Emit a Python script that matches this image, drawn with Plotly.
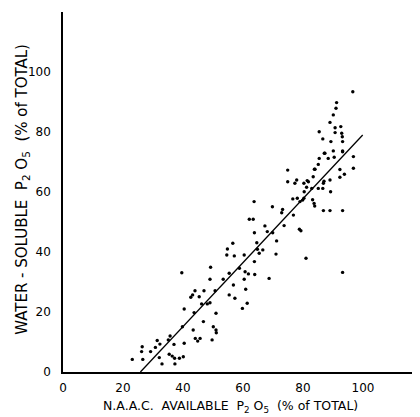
import plotly.graph_objects as go

# Scatter data (N.A.A.C. available vs water-soluble P2O5, % of total)
naac = [
    23.1, 26.6, 26.2, 26.4, 29.2, 30.8, 31.4, 32.3, 32.1, 33.0, 35.1, 35.7, 35.4, 36.4, 37.2, 37.3, 38.8,
    40.1, 37.0, 40.4, 39.6, 40.4, 39.8,
    43.4, 44.1, 44.9, 45.7, 43.7, 42.6, 43.2, 44.0, 45.4, 46.2, 47.0, 46.8, 48.1, 49.0, 49.2, 49.0,
    50.7, 51.0, 50.1, 51.0, 51.1, 49.7, 54.6, 57.1, 60.4, 53.4, 55.4, 56.8, 55.4, 57.3, 58.8, 60.7,
    61.8, 60.4, 60.9, 61.4, 59.8, 63.8, 63.9, 65.4, 66.6, 68.7,
    56.6, 54.8, 64.8, 64.6, 63.8, 62.1, 63.4, 63.7, 67.3, 68.1, 69.9, 69.8, 71.2, 71.0, 72.9, 73.2,
    73.7, 76.8, 76.6, 74.9, 77.3, 77.9, 78.1, 79.0, 79.9, 80.3, 78.8, 79.3, 81.0, 80.4, 81.2, 81.8,
    74.9, 83.2, 83.7, 83.9, 82.9, 80.3, 81.4, 83.4, 83.8, 85.1, 86.6, 86.8, 87.0, 89.2, 89.0, 85.1,
    85.4, 87.3, 88.4, 90.1, 90.4, 89.3, 93.2, 93.2, 96.8, 96.8, 92.3, 92.3, 93.8, 86.8, 89.0, 93.2,
    93.2,
    96.6, 91.2, 91.0, 90.1, 89.0, 85.4, 90.7, 92.6, 90.7, 92.9, 93.1, 86.6, 87.1, 93.2, 84.0,
]
water_soluble = [
    4.2, 4.2, 6.8, 8.4, 6.8, 8.2, 10.5, 9.3, 4.8, 2.7, 10.7, 12.0, 5.9, 5.3, 4.6, 2.7, 4.6,
    5.1, 9.2, 9.6, 33.1, 21.0, 15.1,
    14.0, 11.2, 10.3, 11.2, 19.8, 24.9, 25.7, 27.1, 25.1, 22.7, 27.1, 16.8, 22.7, 23.1, 34.9, 30.9,
    27.1, 19.6, 15.1, 14.0, 13.1, 10.7, 39.0, 38.7, 39.0, 30.9, 32.9, 29.0, 25.7, 24.6, 34.6, 33.4,
    32.7, 30.9, 27.6, 22.9, 21.2, 36.8, 32.5, 39.6, 40.7, 31.2,
    42.9, 41.0, 40.9, 43.1, 46.4, 50.9, 50.9, 56.8, 48.7, 46.8, 46.4, 55.1, 43.7, 39.3, 53.1, 54.2,
    48.8, 52.3, 57.7, 63.4, 62.9, 64.0, 57.9, 56.8, 57.3, 57.9, 47.6, 47.1, 37.9, 60.1, 61.6, 63.4,
    67.3, 57.4, 56.2, 55.3, 61.2, 62.9, 63.8, 65.1, 67.6, 61.2, 61.2, 62.9, 63.6, 60.1, 64.0, 69.2,
    71.2, 72.9, 71.2, 73.7, 71.6, 76.8, 76.8, 73.4, 71.8, 67.9, 67.5, 64.9, 65.9, 53.8, 53.8, 53.8,
    33.2,
    93.4, 89.8, 87.9, 85.7, 83.2, 80.1, 81.4, 81.8, 79.8, 79.6, 78.4, 77.7, 72.9, 73.7, 67.6,
]

# Fitted line end points
line_x = [25.8, 99.9]
line_y = [0.0, 79.0]

x_ticks = [0, 20, 40, 60, 80, 100]
y_ticks = [0, 20, 40, 60, 80, 100]

font = "DejaVu Sans, Verdana, sans-serif"

fig = go.Figure()
fig.add_trace(go.Scatter(
    x=line_x, y=line_y, mode="lines",
    line=dict(color="black", width=1.3), hoverinfo="skip", showlegend=False,
))
fig.add_trace(go.Scatter(
    x=naac, y=water_soluble, mode="markers",
    marker=dict(color="black", size=3.4, line=dict(width=0)), showlegend=False,
))

# The page body adds an 8px margin, so the figure is 8px smaller on each axis
fig.update_layout(
    width=412, height=409,
    margin=dict(l=55, r=0, t=4, b=45),
    paper_bgcolor="white", plot_bgcolor="white",
    font=dict(family=font, color="black", size=12),
    xaxis=dict(
        range=[0, 119], tickvals=x_ticks, ticktext=[str(v) for v in x_ticks],
        showgrid=False, zeroline=False, showline=True, linecolor="black", linewidth=2.2,
        ticks="", ticklabelstandoff=3, tickfont=dict(size=12, family=font),
    ),
    yaxis=dict(
        range=[0, 120], tickvals=y_ticks, ticktext=[str(v) for v in y_ticks],
        showgrid=False, zeroline=False, showline=True, linecolor="black", linewidth=1.6,
        ticks="", ticklabelstandoff=8, tickfont=dict(size=12, family=font),
    ),
    annotations=[
        dict(
            text="N.A.A.C.  AVAILABLE  P<sub>2</sub> O<sub>5</sub>  (% of TOTAL)",
            xref="paper", yref="paper", x=0.468, y=-0.125,
            xanchor="center", yanchor="bottom", showarrow=False,
            font=dict(size=12.5, family=font),
        ),
        dict(
            text="WATER - SOLUBLE  P<sub>2</sub> O<sub>5</sub>  (% of TOTAL)",
            xref="paper", yref="paper", x=-0.112, y=0.506, textangle=-90,
            xanchor="center", yanchor="middle", showarrow=False,
            font=dict(size=15, family=font),
        ),
    ],
)

fig.write_html("out.html")
